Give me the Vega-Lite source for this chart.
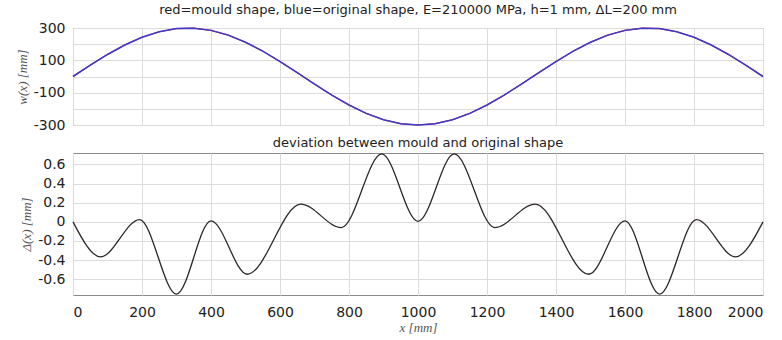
{
  "$schema": "https://vega.github.io/schema/vega-lite/v6.json",
  "padding": {"left": 15, "top": 3, "right": 20, "bottom": 4},
  "background": "white",
  "config": {
    "font": "DejaVu Sans",
    "view": {"stroke": "#8a8a8a", "strokeWidth": 1},
    "axis": {
      "gridColor": "#dcdcdc",
      "gridWidth": 1,
      "ticks": false,
      "domain": false,
      "labelFont": "DejaVu Sans",
      "labelFontSize": 14,
      "labelColor": "#222",
      "labelPadding": 8,
      "titleFont": "Liberation Serif",
      "titleFontStyle": "italic",
      "titleFontWeight": "normal",
      "titleFontSize": 13,
      "titleColor": "#555"
    },
    "title": {"fontSize": 13, "fontWeight": "normal", "color": "#222", "font": "DejaVu Sans", "offset": 4}
  },
  "spacing": 3,
  "datasets": {
    "shape": [
      {"x": 0, "w": 0}, {"x": 50, "w": 70.0}, {"x": 100, "w": 136.2}, {"x": 150, "w": 194.8},
      {"x": 200, "w": 242.7}, {"x": 250, "w": 277.2}, {"x": 300, "w": 296.3}, {"x": 350, "w": 299.1},
      {"x": 400, "w": 285.3}, {"x": 450, "w": 255.8}, {"x": 500, "w": 212.1}, {"x": 550, "w": 156.8},
      {"x": 600, "w": 92.7}, {"x": 650, "w": 23.5}, {"x": 700, "w": -46.9}, {"x": 750, "w": -114.8},
      {"x": 800, "w": -176.3}, {"x": 850, "w": -228.1}, {"x": 900, "w": -267.3}, {"x": 950, "w": -291.7},
      {"x": 1000, "w": -300}, {"x": 1050, "w": -291.7}, {"x": 1100, "w": -267.3}, {"x": 1150, "w": -228.1},
      {"x": 1200, "w": -176.3}, {"x": 1250, "w": -114.8}, {"x": 1300, "w": -46.9}, {"x": 1350, "w": 23.5},
      {"x": 1400, "w": 92.7}, {"x": 1450, "w": 156.8}, {"x": 1500, "w": 212.1}, {"x": 1550, "w": 255.8},
      {"x": 1600, "w": 285.3}, {"x": 1650, "w": 299.1}, {"x": 1700, "w": 296.3}, {"x": 1750, "w": 277.2},
      {"x": 1800, "w": 242.7}, {"x": 1850, "w": 194.8}, {"x": 1900, "w": 136.2}, {"x": 1950, "w": 70.0},
      {"x": 2000, "w": 0}
    ],
    "dev": [
      {"x": 0, "d": 0}, {"x": 80, "d": -0.366}, {"x": 193, "d": 0.024}, {"x": 300, "d": -0.755},
      {"x": 400, "d": 0.01}, {"x": 505, "d": -0.548}, {"x": 660, "d": 0.185}, {"x": 778, "d": -0.06},
      {"x": 895, "d": 0.71}, {"x": 1000, "d": 0.005}, {"x": 1105, "d": 0.71}, {"x": 1222, "d": -0.06},
      {"x": 1340, "d": 0.185}, {"x": 1495, "d": -0.548}, {"x": 1600, "d": 0.01}, {"x": 1700, "d": -0.755},
      {"x": 1807, "d": 0.024}, {"x": 1920, "d": -0.366}, {"x": 2000, "d": 0}
    ]
  },
  "vconcat": [
    {
      "width": 690,
      "height": 97,
      "title": {"text": "red=mould shape, blue=original shape, E=210000 MPa, h=1 mm, ΔL=200 mm"},
      "data": {"name": "shape"},
      "encoding": {
        "x": {"field": "x", "type": "quantitative", "scale": {"domain": [0, 2000], "nice": false},
              "axis": {"labels": false, "title": null, "values": [0, 200, 400, 600, 800, 1000, 1200, 1400, 1600, 1800, 2000]}},
        "y": {"field": "w", "type": "quantitative", "scale": {"domain": [-300, 300], "nice": false},
              "axis": {"title": "w(x) [mm]", "values": [-300, -200, -100, 0, 100, 200, 300],
                       "labelExpr": "abs(datum.value % 200) == 100 ? replace(datum.label, '−', '-') : ''"}}
      },
      "layer": [
        {"mark": {"type": "line", "color": "#d02020", "strokeWidth": 1.1}},
        {"mark": {"type": "line", "color": "#4038cc", "strokeWidth": 1.5}}
      ]
    },
    {
      "width": 690,
      "height": 142,
      "title": {"text": "deviation between mould and original shape", "offset": 1},
      "data": {"name": "dev"},
      "mark": {"type": "line", "color": "#2e2626", "strokeWidth": 1.3, "interpolate": "monotone"},
      "encoding": {
        "x": {"field": "x", "type": "quantitative", "scale": {"domain": [0, 2000], "nice": false},
              "axis": {"title": "x [mm]", "format": "d", "values": [0, 200, 400, 600, 800, 1000, 1200, 1400, 1600, 1800, 2000], "labelPadding": 10, "titlePadding": 2}},
        "y": {"field": "d", "type": "quantitative", "scale": {"domain": [-0.765, 0.72], "nice": false},
              "axis": {"title": "Δ(x) [mm]", "values": [-0.6, -0.4, -0.2, 0, 0.2, 0.4, 0.6],
                       "labelExpr": "datum.value == 0 ? '0' : replace(format(datum.value, '.1f'), '−', '-')"}}
      }
    }
  ]
}
